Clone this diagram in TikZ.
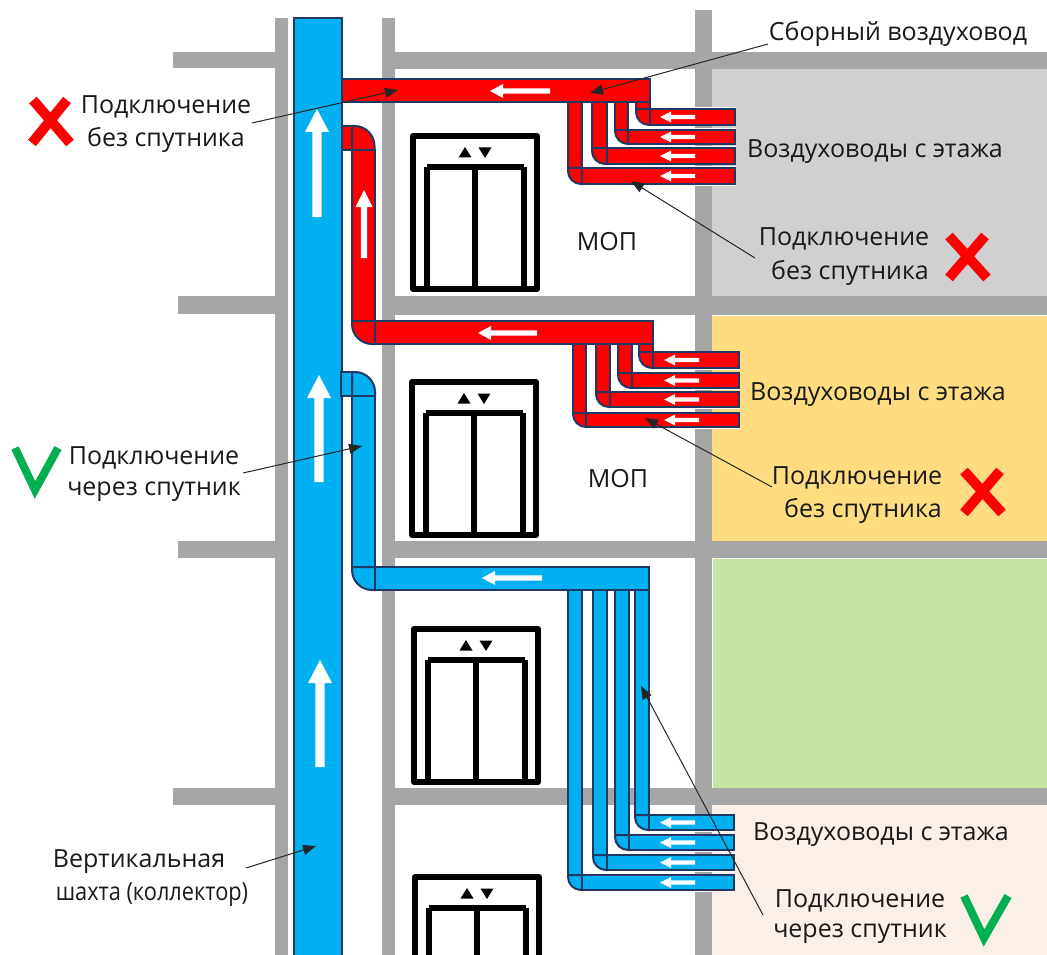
\documentclass[tikz,border=0pt]{standalone}
\usepackage{fontspec}
\setmainfont{Open Sans}
\usetikzlibrary{arrows.meta}
\definecolor{wallc}{HTML}{A6A6A6}
\definecolor{bord}{HTML}{1F3864}
\definecolor{bluef}{HTML}{00B0F0}
\definecolor{redf}{HTML}{FF0000}
\definecolor{greenm}{HTML}{00B050}
\definecolor{roomgray}{HTML}{D0D0D0}
\definecolor{roomyel}{HTML}{FFDC7F}
\definecolor{roomgrn}{HTML}{C6E5A3}
\definecolor{roombei}{HTML}{FBF0E8}
\tikzset{
  wall/.style={fill=wallc,draw=none},
  duct/.style={draw=bord,line width=2pt,line join=miter},
  lift/.style={draw=black,line width=6pt,line join=round},
  lbl/.style={font=\fontsize{25pt}{28pt}\selectfont,text=black!90,inner sep=0pt,anchor=center,yshift=-2pt},
  leader/.style={draw=black!85,line width=1pt,-{Triangle[length=13pt,width=10pt]}},
  cross/.style={draw=redf,line width=10pt},
  tick/.style={draw=greenm,line width=8pt,line join=miter}
}
% small and big arrows: x tip, x tail, y
\newcommand{\harrow}[5]{% tip,tail,y,headlen,halfw
  \fill[white] ({#1},{#3}) -- ({#1+#4},{#3-#5}) -- ({#1+#4},{#3-0.38*#5}) -- ({#2},{#3-0.38*#5}) -- ({#2},{#3+0.38*#5}) -- ({#1+#4},{#3+0.38*#5}) -- ({#1+#4},{#3+#5}) -- cycle;}
\newcommand{\varrow}[5]{% x, tip y, tail y, headlen, halfw
  \fill[white] ({#1},{#2}) -- ({#1+#5},{#2+#4}) -- ({#1+0.38*#5},{#2+#4}) -- ({#1+0.38*#5},{#3}) -- ({#1-0.38*#5},{#3}) -- ({#1-0.38*#5},{#2+#4}) -- ({#1-#5},{#2+#4}) -- cycle;}
% branch: colour, x1, x2, ytop, y1, y2, xend, arrow tip x
\newcommand{\ductbranch}[8]{%
  \fill[white] ({#2-2},{#5-1.5}) rectangle ({#7+1},{#6+1.5});
  \draw[duct,fill=#1] (#2,#4) rectangle (#3,#5);
  \draw[duct,fill=#1] (#2,#5) -- (#3,#5) -- (#3,#6) [rounded corners=13pt] -- (#2,#6) [sharp corners] -- cycle;
  \draw[duct,fill=#1] (#3,#5) rectangle (#7,#6);
  \harrow{#8}{#8+35}{(#5+#6)/2}{11}{5.5}
}
% lift: dx, dy
\newcommand{\liftcar}[2]{%
  \begin{scope}[shift={(#1,#2)}]
    \draw[lift] (413,136) rectangle (537,289);
    \draw[lift] (427,167) -- (427,289);
    \draw[lift] (524,167) -- (524,289);
    \draw[lift] (427,167) -- (524,167);
    \draw[lift] (475,167) -- (475,289);
    \fill[black] (458.5,157.5) -- (471.5,157.5) -- (465,147) -- cycle;
    \fill[black] (478.5,147.5) -- (491.5,147.5) -- (485,158) -- cycle;
  \end{scope}}
\begin{document}
\begin{tikzpicture}[x=1pt,y=-1pt]
\useasboundingbox (0,0) rectangle (1047,955);
\begin{scope}
\clip (0,0) rectangle (1047,955);
% rooms
\fill[roomgray] (712,69) rectangle (1047,296);
\fill[roomyel] (712,316) rectangle (1047,541);
\fill[roomgrn] (713,559) rectangle (1047,788);
\fill[roombei] (712,805) rectangle (1047,955);
% walls
\fill[wall] (275,18) rectangle (288,955);
\fill[wall] (382,18) rectangle (395,955);
\fill[wall] (695,10) rectangle (712,955);
\fill[wall] (173,52) rectangle (275,68);
\fill[wall] (395,52) rectangle (1047,69);
\fill[wall] (178,296) rectangle (275,314);
\fill[wall] (395,296) rectangle (1047,315);
\fill[wall] (178,541) rectangle (275,558);
\fill[wall] (395,541) rectangle (1047,558);
\fill[wall] (173,788) rectangle (275,805);
\fill[wall] (395,788) rectangle (1047,805);
% lifts
\liftcar{0}{0}
\liftcar{-1}{246}
\liftcar{1}{493}
\liftcar{2}{741}
% shaft
\draw[duct,fill=bluef] (293.5,18) rectangle (342,970);
\varrow{317}{109}{217}{23}{12}
\varrow{319}{375}{482}{23}{12}
\varrow{320}{660}{767}{23}{12}
% floor 1 red
\ductbranch{redf}{636}{650}{102}{109}{125}{735}{660}
\ductbranch{redf}{615}{628}{102}{130}{144}{735}{660}
\ductbranch{redf}{592}{607}{102}{148}{164}{735}{660}
\ductbranch{redf}{568}{582}{102}{168}{184}{735}{660}
\draw[duct,fill=redf] (342,79) rectangle (650,102);
\harrow{490}{550}{91}{13}{7}
% red riser
\draw[duct,fill=redf] (342,126) rectangle (352,150);
\draw[duct,fill=redf] (352,150) -- (352,126) [rounded corners=20pt] -- (374.5,126) [sharp corners] -- (374.5,150) -- cycle;
\draw[duct,fill=redf] (352,150) rectangle (374.5,321);
\varrow{364}{190}{258}{17}{8.5}
\draw[duct,fill=redf] (352,321) -- (375,321) -- (375,344) [rounded corners=20pt] -- (352,344) [sharp corners] -- cycle;
\ductbranch{redf}{639}{653}{344}{352}{368}{739}{664}
\ductbranch{redf}{618}{632}{344}{373}{388}{739}{664}
\ductbranch{redf}{596}{610}{344}{392}{407}{739}{664}
\ductbranch{redf}{573}{586}{344}{413}{427}{739}{664}
\draw[duct,fill=redf] (375,321) rectangle (653,344);
\harrow{478}{537}{333}{13}{7}
% blue riser
\draw[duct,fill=bluef] (341,372) rectangle (352,396);
\draw[duct,fill=bluef] (352,396) -- (352,372) [rounded corners=20pt] -- (375,372) [sharp corners] -- (375,396) -- cycle;
\draw[duct,fill=bluef] (352,396) rectangle (375,567);
\draw[duct,fill=bluef] (352,567) -- (375,567) -- (375,590) [rounded corners=20pt] -- (352,590) [sharp corners] -- cycle;
\ductbranch{bluef}{635}{649}{590}{815}{830}{734}{660}
\ductbranch{bluef}{615}{629}{590}{835}{850}{734}{660}
\ductbranch{bluef}{593}{607}{590}{855}{870}{734}{660}
\ductbranch{bluef}{568}{582}{590}{875}{890}{734}{660}
\draw[duct,fill=bluef] (375,567) rectangle (649,590);
\harrow{482}{542}{578}{13}{7}
\end{scope}
% marks
\draw[cross] (33,100) -- (70,143) (67,100) -- (32,143);
\draw[cross] (949,236) -- (987,278) (985,236) -- (949,278);
\draw[cross] (964,471) -- (1002,513) (1000,471) -- (964,513);
\draw[tick] (15,448) -- (35,490) -- (58,448);
\draw[tick] (964,896) -- (984,938) -- (1008,896);
% labels
\node[lbl] (tCollect) at (898,32) {Сборный воздуховод};
\node[lbl] (tA1) at (166,105) {Подключение};
\node[lbl] (tA2) at (166,138) {без спутника};
\node[lbl] (tV1) at (875,150) {Воздуховоды с этажа};
\node[lbl] (tM1) at (607,240) {МОП};
\node[lbl] (tB1) at (844,237) {Подключение};
\node[lbl] (tB2) at (850,271) {без спутника};
\node[lbl] (tV2) at (878,393) {Воздуховоды с этажа};
\node[lbl] (tM2) at (618,477) {МОП};
\node[lbl] (tC1) at (857,476) {Подключение};
\node[lbl] (tC2) at (863,509) {без спутника};
\node[lbl] (tD1) at (154,456) {Подключение};
\node[lbl] (tD2) at (154,490) {через спутник};
\node[lbl] (tV3) at (881,833) {Воздуховоды с этажа};
\node[lbl] (tE1) at (860,899) {Подключение};
\node[lbl] (tE2) at (860,932) {через спутник};
\node[lbl] (tF1) at (139,860) {Вертикальная};
\node[lbl,xscale=0.87] (tF2) at (152,893) {шахта (коллектор)};
% leader ends
\coordinate (s1) at (768,44); \coordinate (e1) at (590,93);
\coordinate (s2) at (252,123); \coordinate (e2) at (398,90);
\coordinate (s3) at (755,258); \coordinate (e3) at (631,181);
\coordinate (s4) at (772,487); \coordinate (e4) at (645,418);
\coordinate (s5) at (243,473); \coordinate (e5) at (362,446);
\coordinate (s6) at (763,915); \coordinate (e6) at (641,686);
\coordinate (s7) at (246,868); \coordinate (e7) at (316,846);
\draw[leader] (s1) -- (e1);
\draw[leader] (s2) -- (e2);
\draw[leader] (s3) -- (e3);
\draw[leader] (s4) -- (e4);
\draw[leader] (s5) -- (e5);
\draw[leader] (s6) -- (e6);
\draw[leader] (s7) -- (e7);
\end{tikzpicture}
\end{document}
